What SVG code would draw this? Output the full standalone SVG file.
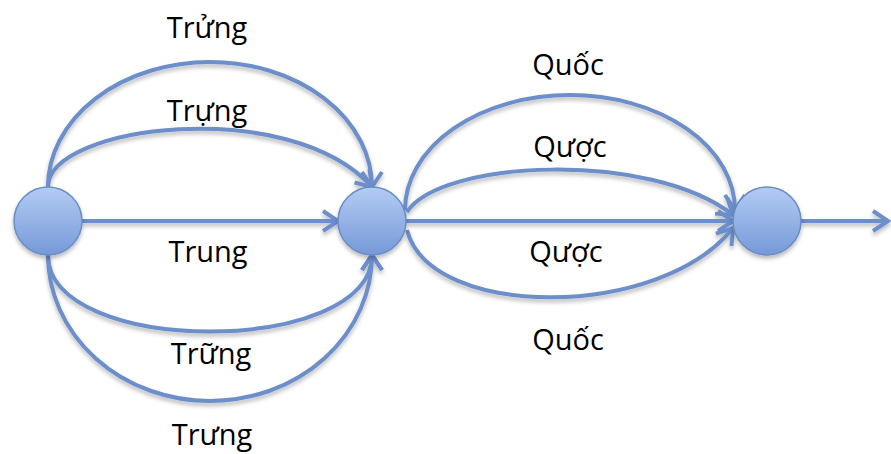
<svg xmlns="http://www.w3.org/2000/svg" width="891" height="454" viewBox="0 0 891 454">
  <style>
    .edge { fill: none; stroke: #6c8ecb; stroke-width: 4; }
    .lbl { font-family: "Open Sans", "Liberation Sans", sans-serif; font-size: 29px; fill: #000; text-anchor: middle; }
    .node { fill: url(#nodeGrad); stroke: #6a8bc6; stroke-width: 1.5; }
  </style>
  <defs>
    <linearGradient id="nodeGrad" x1="0" y1="0" x2="0" y2="1">
      <stop offset="0" stop-color="#b3ccf3"/>
      <stop offset="1" stop-color="#7599d8"/>
    </linearGradient>
    <filter id="shadow" x="-20%" y="-20%" width="140%" height="140%">
      <feDropShadow dx="0" dy="3" stdDeviation="2" flood-color="#000" flood-opacity="0.28"/>
    </filter>
    <marker id="arrow" markerUnits="userSpaceOnUse" markerWidth="24" markerHeight="24" viewBox="-20 -12 24 24" refX="0" refY="0" orient="auto">
      <path d="M-15,-10 L0,0 L-15,10" fill="none" stroke="#6c8ecb" stroke-width="4"/>
    </marker>
  </defs>

  <g id="connectors" filter="url(#shadow)">
    <path class="edge" d="M48,187 A162,125 0 0 1 372,187" marker-end="url(#arrow)"/>
    <path class="edge" d="M48,187 C48,125 290,95 372,187" marker-end="url(#arrow)"/>
    <path class="edge" d="M82,221 L338,221" marker-end="url(#arrow)"/>
    <path class="edge" d="M48,255 C48,357 372,357 372,255" marker-end="url(#arrow)"/>
    <path class="edge" d="M48,255 A162,146 0 0 0 372,255" marker-end="url(#arrow)"/>
    <path class="edge" d="M405,210 A165,115 0 0 1 735,210" marker-end="url(#arrow)"/>
    <path class="edge" d="M407,212 C440,160 650,150 733,215" marker-end="url(#arrow)"/>
    <path class="edge" d="M406,221 L733,221" marker-end="url(#arrow)"/>
    <path class="edge" d="M407,230 C430,320 660,320 733,228" marker-end="url(#arrow)"/>
    <path class="edge" d="M801,221 L888,221" marker-end="url(#arrow)"/>
  </g>

  <g id="node1" filter="url(#shadow)"><circle class="node" cx="48" cy="221" r="34"/></g>
  <g id="node2" filter="url(#shadow)"><circle class="node" cx="372" cy="221" r="34"/></g>
  <g id="node3" filter="url(#shadow)"><circle class="node" cx="767" cy="221" r="34"/></g>

  <g id="labels">
    <text class="lbl" x="207" y="38">Trửng</text>
    <text class="lbl" x="207" y="121">Trựng</text>
    <text class="lbl" x="208" y="262">Trung</text>
    <text class="lbl" x="211" y="364">Trững</text>
    <text class="lbl" x="212" y="445">Trưng</text>
    <text class="lbl" x="568" y="75">Quốc</text>
    <text class="lbl" x="570" y="157">Qược</text>
    <text class="lbl" x="566" y="262">Qược</text>
    <text class="lbl" x="568" y="350">Quốc</text>
  </g>
</svg>
